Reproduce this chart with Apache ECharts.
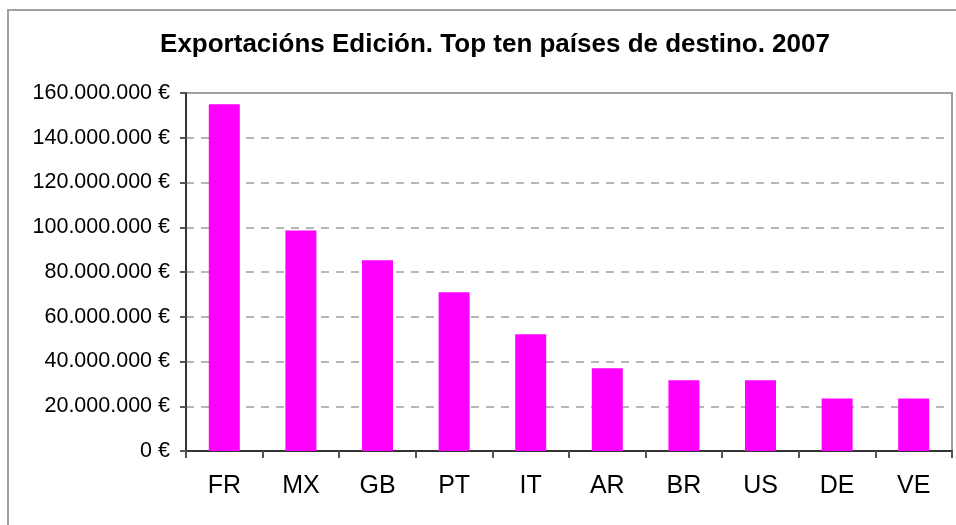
<!DOCTYPE html>
<html>
<head>
<meta charset="utf-8">
<title>Exportacións Edición</title>
<script src="https://cdn.jsdelivr.net/npm/echarts@6/dist/echarts.min.js"></script>
<style>
  html, body { margin: 0; padding: 0; background: #fff; }
  #chart { width: 956px; height: 525px; }
</style>
</head>
<body>
<div id="chart"></div>
<script>
// datos
const countries = ["FR", "MX", "GB", "PT", "IT", "AR", "BR", "US", "DE", "VE"];
const exportValues = [155000000, 98600000, 85200000, 70900000, 52200000, 37000000, 31600000, 31600000, 23500000, 23500000];
const yTicks = { min: 0, max: 160000000, step: 20000000 };

const fmtEuro = (v) => String(Math.round(v)).replace(/\B(?=(\d{3})+(?!\d))/g, ".") + " €";

const chart = echarts.init(document.getElementById("chart"));

const option = {
  animation: false,
  backgroundColor: "#fff",
  title: {
    text: "Exportacións Edición. Top ten países de destino. 2007",
    left: 490,
    textAlign: "center",
    top: 27,
    textStyle: { fontFamily: "Liberation Sans, Arial, sans-serif", fontSize: 26, fontWeight: "bold", color: "#000" }
  },
  graphic: [
    {
      type: "rect",
      shape: { x: 8, y: 10, width: 1000, height: 600 },
      style: { fill: "none", stroke: "#a0a0a0", lineWidth: 2 },
      silent: true
    }
  ],
  grid: {
    left: 186, right: 4, top: 93, bottom: 74,
    show: true,
    borderColor: "#a0a0a0",
    borderWidth: 2,
    backgroundColor: "transparent"
  },
  xAxis: {
    type: "category",
    data: countries,
    axisLine: { lineStyle: { color: "#333", width: 2 } },
    axisTick: { show: true, length: 7, lineStyle: { color: "#555", width: 2 } },
    axisLabel: { fontFamily: "Liberation Sans, Arial, sans-serif", fontSize: 25, color: "#000", margin: 23 },
    splitLine: { show: false }
  },
  yAxis: {
    type: "value",
    min: yTicks.min,
    max: yTicks.max,
    interval: yTicks.step,
    axisLine: { show: true, lineStyle: { color: "#333", width: 2 } },
    axisTick: { show: true, length: 6, lineStyle: { color: "#555", width: 2 } },
    axisLabel: { fontFamily: "Liberation Sans, Arial, sans-serif", fontSize: 21.5, color: "#000", margin: 16, formatter: fmtEuro },
    splitLine: { show: true, lineStyle: { color: "#a0a0a0", type: [8, 7], width: 1.5 } }
  },
  series: [
    {
      type: "bar",
      data: exportValues,
      barWidth: 31,
      itemStyle: { color: "#ff00ff" }
    }
  ]
};

chart.setOption(option);
</script>
</body>
</html>
